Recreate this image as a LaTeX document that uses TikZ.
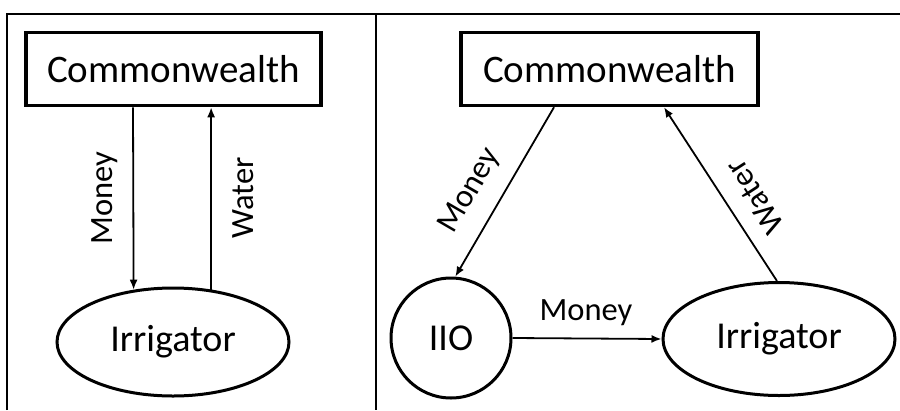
\documentclass[tikz,border=0pt]{standalone}
\usepackage{fontspec}
\setmainfont{Carlito}
\usetikzlibrary{arrows.meta,shapes.geometric,calc}
\begin{document}
\begin{tikzpicture}[x=1pt,y=-1pt,
  boxnode/.style={draw,line width=3.5pt,minimum width=295pt,minimum height=73pt,inner sep=0pt,font=\fontsize{39}{44}\selectfont},
  ellnode/.style={draw,ellipse,line width=3pt,minimum width=232pt,minimum height=108pt,inner sep=0pt,font=\fontsize{38}{44}\selectfont},
  circnode/.style={draw,circle,line width=3pt,minimum size=120pt,inner sep=0pt,font=\fontsize{38}{44}\selectfont},
  arr/.style={line width=1.8pt,-{Latex[length=10pt,width=8pt]}},
  lbl/.style={font=\fontsize{32.5}{36}\selectfont,inner sep=0pt},
  frame/.style={line width=2pt}]
\useasboundingbox (0,0) rectangle (900,410);
% frame
\coordinate (ftl) at (7,14);
\coordinate (ftr) at (900,14);
\coordinate (fbl) at (7,410);
\coordinate (fmt) at (376,14);
\coordinate (fmb) at (376,410);
\draw[frame] (fbl) -- (ftl) -- (ftr);
\draw[frame] (fmt) -- (fmb);
% left panel
\node[boxnode] (cwL) at (173.5,69) {Commonwealth};
\node[ellnode] (irL) at (173,342) {Irrigator};
\coordinate (mL) at ($(cwL.south)+(-40.5,0)$);
\draw[arr] (mL) -- (irL.127.7);
\draw[arr] (irL.54.7) -- (irL.54.7 |- cwL.south);
\node[lbl,rotate=90] (lmL) at (105,198) {Money};
\node[lbl,rotate=90] (lwL) at (243,198) {Water};
% right panel
\node[boxnode,minimum width=297pt] (cwR) at (609.5,69) {Commonwealth};
\node[circnode] (iio) at (451,338) {IIO};
\node[ellnode,minimum height=113pt] (irR) at (779,339) {Irrigator};
\coordinate (mR) at ($(cwR.south)+(-55.5,0)$);
\draw[arr] (mR) -- (iio.86);
\coordinate (wR) at ($(cwR.south)+(54.5,0)$);
\draw[arr] (irR.92) -- (wR);
\draw[arr] (iio.east) -- (irR.west);
\node[lbl,rotate=59.8] (lmR) at (470,191) {Money};
\node[lbl,rotate=123] (lwR) at (755,197) {Water};
\node[lbl] (lmH) at (586,313) {Money};
\end{tikzpicture}
\end{document}
